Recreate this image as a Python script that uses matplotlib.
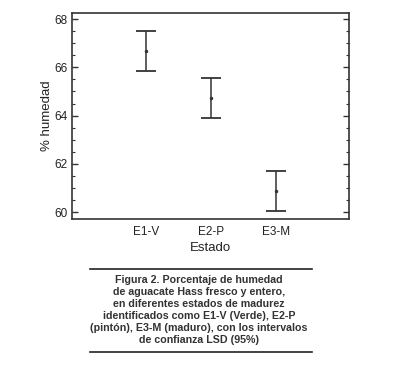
import matplotlib.pyplot as plt
from matplotlib.ticker import MultipleLocator

plt.rcParams['font.family'] = ['Liberation Sans', 'DejaVu Sans']

estados = ['E1-V', 'E2-P', 'E3-M']
medias = [66.68, 64.74, 60.86]
lim_inf = [65.84, 63.92, 60.04]
lim_sup = [67.50, 65.56, 61.70]

caption = ("Figura 2. Porcentaje de humedad\n"
           "de aguacate Hass fresco y entero,\n"
           "en diferentes estados de madurez\n"
           "identificados como E1-V (Verde), E2-P\n"
           "(pintón), E3-M (maduro), con los intervalos\n"
           "de confianza LSD (95%)")

x = [1, 2, 3]
err_lo = [m - l for m, l in zip(medias, lim_inf)]
err_hi = [u - m for m, u in zip(medias, lim_sup)]

fig = plt.figure(figsize=(4.18, 3.68), dpi=100)
ax = fig.add_axes([72 / 418, 1 - 219 / 368, 277 / 418, 206 / 368])

c = '#333333'
ax.errorbar(x, medias, yerr=[err_lo, err_hi], fmt='o', ms=1.5, color=c,
            ecolor=c, elinewidth=1.1, capsize=7, capthick=1.3)

ax.set_xlim(-0.14, 4.12)
ax.set_ylim(59.72, 68.25)
ax.set_xticks(x)
ax.set_xticklabels(estados)
ax.yaxis.set_major_locator(MultipleLocator(2))
ax.yaxis.set_minor_locator(MultipleLocator(0.5))
ax.tick_params(axis='y', which='both', direction='in', left=True, right=True,
               colors=c, labelcolor='#222222', labelsize=8.5)
ax.tick_params(axis='y', which='major', length=4, width=1)
ax.tick_params(axis='y', which='minor', length=2.5, width=0.8)
ax.tick_params(axis='x', length=0, labelsize=8.5, labelcolor='#222222', pad=5)
for s in ax.spines.values():
    s.set_color(c)
    s.set_linewidth(1.2)

ax.set_ylabel('% humedad', fontsize=9.5, color='#222222', labelpad=1)
ax.set_xlabel('Estado', fontsize=9.5, color='#222222', labelpad=3)

fig.add_artist(plt.Line2D([90 / 418, 312 / 418], [1 - 269 / 368, 1 - 269 / 368],
                          color='#222222', lw=1.2))
fig.add_artist(plt.Line2D([90 / 418, 312 / 418], [1 - 352 / 368, 1 - 352 / 368],
                          color='#222222', lw=1.2))
fig.text(199 / 418, 1 - 310 / 368, caption, ha='center', va='center',
         fontsize=7.7, fontweight='bold', color='#333333', linespacing=1.27)

fig.savefig('out.png', dpi=100)
